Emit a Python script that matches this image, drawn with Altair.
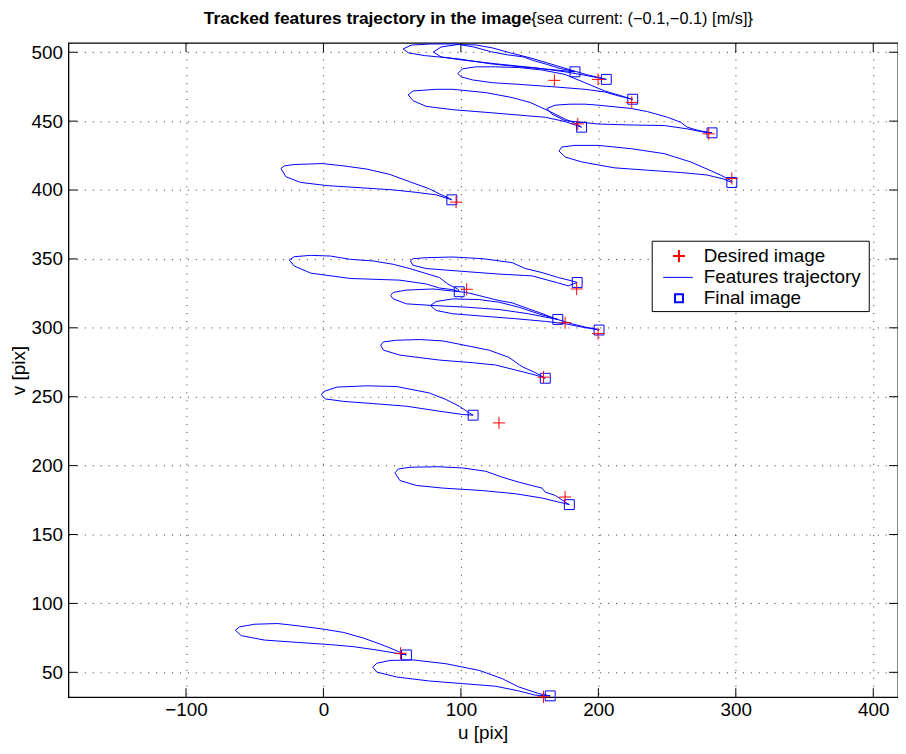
import altair as alt
import pandas as pd

# ---- trajectories of the 16 tracked features (u, v in pixels) ----
T01_U = [58.0, 64.0, 78.4, 96.5, 109.4, 121.7, 134.0, 145.5, 152.7, 162.8, 172.2, 181.5, 183.0, 165.0, 145.5, 121.7, 97.9, 73.4, 61.9, 58.0]
T01_V = [502.4, 505.2, 506.0, 506.0, 503.8, 500.4, 498.1, 496.6, 494.0, 491.1, 488.2, 486.3, 485.8, 487.5, 489.2, 491.6, 495.2, 497.6, 499.5, 502.4]

T02_U = [79.9, 85.6, 97.9, 110.9, 123.1, 136.1, 150.5, 165.0, 179.4, 191.6, 201.0, 205.3, 205.8, 190.2, 175.8, 154.1, 125.3, 100.1, 85.6, 79.9]
T02_V = [500.2, 503.8, 505.6, 505.3, 503.1, 499.5, 495.9, 491.6, 487.3, 483.7, 481.5, 480.4, 480.3, 483.3, 485.8, 488.7, 491.6, 494.5, 496.6, 500.2]

T03_U = [97.7, 101.3, 110.9, 125.3, 142.1, 159.0, 175.8, 190.2, 204.6, 216.7, 223.9, 225.0, 214.2, 204.6, 190.2, 166.2, 142.1, 122.9, 108.5, 100.1, 97.7]
T03_V = [484.6, 488.0, 489.4, 489.4, 488.9, 487.1, 483.9, 477.9, 471.9, 468.4, 465.9, 465.9, 468.4, 471.2, 473.1, 475.0, 476.7, 477.9, 479.9, 482.2, 484.6]

T04_U = [61.6, 65.2, 82.0, 94.1, 118.1, 137.3, 150.5, 163.5, 175.8, 184.2, 187.8, 184.2, 175.8, 161.4, 142.1, 118.1, 94.1, 74.8, 65.2, 61.6]
T04_V = [469.1, 471.9, 473.1, 473.1, 470.7, 467.1, 463.5, 457.6, 451.5, 447.9, 445.6, 446.8, 449.7, 452.8, 454.4, 456.4, 458.3, 460.7, 464.8, 469.1]

T05_U = [162.6, 168.6, 179.4, 190.2, 199.8, 223.9, 235.8, 250.3, 259.9, 264.7, 273.1, 282.7, 276.7, 264.7, 247.9, 223.9, 199.8, 175.8, 166.2, 162.6]
T05_V = [459.2, 461.6, 462.3, 462.3, 461.6, 459.2, 456.9, 452.8, 449.2, 445.6, 443.1, 441.5, 442.0, 444.4, 446.8, 447.2, 447.9, 450.4, 455.1, 459.2]

T06_U = [171.4, 173.4, 183.0, 199.8, 223.9, 247.9, 267.1, 279.1, 288.8, 297.1, 297.1, 291.1, 279.1, 259.9, 235.8, 211.8, 187.8, 175.8, 171.4]
T06_V = [428.3, 431.2, 432.4, 432.4, 430.0, 426.4, 420.4, 415.2, 410.9, 406.5, 405.5, 408.0, 410.9, 412.7, 414.4, 416.1, 420.4, 424.0, 428.3]

T07_U = [-30.9, -28.5, -21.3, -0.9, 14.8, 31.6, 48.4, 62.8, 77.2, 84.4, 91.6, 93.4, 82.0, 67.6, 50.8, 26.7, 2.7, -16.5, -27.3, -30.9]
T07_V = [415.6, 417.5, 418.5, 419.2, 417.5, 415.2, 411.3, 406.0, 400.8, 397.2, 394.0, 392.9, 396.5, 398.3, 400.1, 401.7, 403.2, 405.5, 409.6, 415.6]

T08_U = [63.3, 65.2, 74.8, 94.1, 115.7, 137.3, 146.9, 159.0, 170.9, 180.6, 184.6, 178.0, 170.9, 151.8, 127.7, 103.7, 74.8, 65.2, 63.3]
T08_V = [348.5, 350.2, 350.9, 351.4, 350.2, 347.3, 343.0, 340.1, 336.5, 334.1, 332.9, 330.5, 332.5, 337.7, 339.0, 340.8, 343.0, 345.4, 348.5]

T09_U = [-24.9, -21.3, -9.3, 5.1, 19.5, 36.4, 50.8, 62.8, 72.4, 84.4, 90.5, 97.7, 98.8, 94.1, 84.4, 74.8, 55.6, 19.5, -9.3, -21.3, -24.9]
T09_V = [349.2, 351.6, 352.6, 352.1, 349.7, 348.5, 346.1, 343.0, 340.1, 336.5, 331.8, 328.2, 326.2, 327.7, 328.9, 331.8, 334.6, 335.8, 339.7, 344.9, 349.2]

T10_U = [48.9, 50.8, 60.4, 79.7, 103.7, 113.3, 127.7, 137.3, 149.3, 161.4, 168.6, 170.5, 161.4, 149.3, 127.7, 103.7, 79.7, 60.4, 50.8, 48.9]
T10_V = [323.4, 325.7, 327.4, 328.2, 325.7, 323.4, 319.8, 318.1, 313.8, 309.5, 306.6, 306.1, 307.8, 310.2, 313.3, 315.0, 316.2, 317.4, 321.0, 323.4]

T11_U = [77.9, 82.0, 94.1, 113.3, 127.7, 142.1, 156.5, 168.6, 180.6, 190.2, 199.8, 200.5, 187.8, 175.8, 161.4, 139.7, 115.7, 94.1, 82.0, 77.9]
T11_V = [316.2, 319.1, 321.0, 320.5, 318.6, 315.0, 310.2, 306.6, 303.0, 300.6, 298.9, 298.4, 300.6, 303.0, 304.7, 306.6, 308.5, 310.2, 312.6, 316.2]

T12_U = [41.7, 43.6, 53.2, 70.0, 86.9, 106.0, 120.5, 134.9, 144.5, 154.1, 159.4, 161.4, 156.5, 144.5, 125.3, 108.5, 84.4, 55.6, 43.6, 41.7]
T12_V = [287.4, 289.8, 291.0, 291.5, 290.5, 286.7, 283.8, 278.6, 271.8, 267.5, 264.6, 263.4, 265.1, 268.2, 273.0, 274.7, 276.6, 280.2, 283.8, 287.4]

T13_U = [-1.6, 0.3, 9.9, 31.6, 53.2, 77.2, 89.3, 98.8, 106.0, 108.9, 101.3, 84.4, 60.4, 36.4, 14.8, 1.5, -1.6]
T13_V = [251.4, 253.8, 257.0, 257.9, 257.4, 252.7, 247.9, 243.1, 238.3, 236.6, 237.1, 239.5, 243.1, 245.0, 246.6, 248.4, 251.4]

T14_U = [52.0, 54.4, 62.8, 83.3, 101.3, 118.1, 130.1, 142.1, 159.0, 161.4, 168.6, 175.8, 178.9, 170.9, 159.0, 139.7, 115.7, 86.9, 67.6, 55.6, 52.0]
T14_V = [194.7, 197.5, 198.8, 199.2, 198.3, 195.9, 191.6, 188.0, 183.7, 180.8, 178.4, 173.6, 171.7, 173.6, 176.5, 179.6, 181.9, 183.7, 185.6, 189.2, 194.7]

T15_U = [-64.1, -60.9, -50.1, -33.3, -18.9, 0.3, 14.8, 29.2, 41.2, 48.4, 55.6, 60.4, 48.4, 38.8, 22.0, 5.1, -18.9, -42.9, -59.8, -64.1]
T15_V = [80.6, 83.0, 84.9, 85.4, 83.8, 81.3, 78.9, 74.8, 70.5, 67.7, 64.6, 62.6, 64.6, 66.2, 68.6, 70.1, 71.7, 73.4, 76.6, 80.6]

T16_U = [35.9, 38.8, 48.4, 65.2, 89.3, 113.3, 130.1, 142.1, 156.5, 165.0, 154.1, 142.1, 125.3, 101.3, 77.2, 53.2, 38.8, 35.9]
T16_V = [53.7, 56.6, 58.6, 59.0, 56.2, 51.4, 45.4, 39.4, 34.6, 32.9, 33.4, 36.5, 39.9, 41.8, 43.7, 46.6, 50.2, 53.7]

# ---- desired image points (red +) and final image points (blue squares) ----
DESIRED_U = [168.0, 199.8, 224.3, 185.0, 280.3, 297.1, 96.5, 184.2, 104.2, 175.8, 199.8, 160.1, 127.7, 175.8, 56.1, 160.1]
DESIRED_V = [479.6, 480.3, 463.6, 448.0, 440.8, 408.4, 391.2, 328.2, 328.0, 303.7, 295.8, 264.2, 231.0, 177.2, 63.8, 32.2]
FINAL_U = [183.0, 205.8, 225.0, 187.8, 282.7, 297.1, 93.4, 184.6, 98.8, 170.5, 200.5, 161.4, 108.9, 178.9, 60.4, 165.0]
FINAL_V = [485.8, 480.3, 465.9, 445.6, 441.5, 405.5, 392.9, 332.9, 326.2, 306.1, 298.4, 263.4, 236.6, 171.7, 62.6, 32.9]

# ---- axes ----
X_TICKS = [-100, 0, 100, 200, 300, 400]
Y_TICKS = [50, 100, 150, 200, 250, 300, 350, 400, 450, 500]
X_DOMAIN = [-185.5, 418.0]
Y_DOMAIN = [32.0, 506.7]

TITLE_BOLD = "Tracked features trajectory in the image"
TITLE_NORMAL = "{sea current: (\u22120.1,\u22120.1) [m/s]}"
X_TITLE = "u [pix]"
Y_TITLE = "v [pix]"
LEGEND_LABELS = ["Desired image", "Features trajectory", "Final image"]

W, H = 837, 660
FONT = "Liberation Sans"
FS = 19
BLUE = "#0000ff"
RED = "#ff0000"
PLUS = "M-1,0L1,0M0,-1L0,1"

trajs = [(T01_U, T01_V), (T02_U, T02_V), (T03_U, T03_V), (T04_U, T04_V), (T05_U, T05_V),
         (T06_U, T06_V), (T07_U, T07_V), (T08_U, T08_V), (T09_U, T09_V), (T10_U, T10_V),
         (T11_U, T11_V), (T12_U, T12_V), (T13_U, T13_V), (T14_U, T14_V), (T15_U, T15_V),
         (T16_U, T16_V)]
rows = []
for k, (us, vs) in enumerate(trajs):
    for i, (u, v) in enumerate(zip(us, vs)):
        rows.append({"traj": k, "i": i, "u": u, "v": v})
df_lines = pd.DataFrame(rows)
df_des = pd.DataFrame({"u": DESIRED_U, "v": DESIRED_V})
df_fin = pd.DataFrame({"u": FINAL_U, "v": FINAL_V})
df_xt = pd.DataFrame({"u": X_TICKS})
df_yt = pd.DataFrame({"v": Y_TICKS})
one = pd.DataFrame({"k": [0]})

X = alt.X("u:Q", scale=alt.Scale(domain=X_DOMAIN, nice=False, zero=False),
          axis=alt.Axis(values=X_TICKS, title=None, grid=True, ticks=False, domain=False,
                        labelPadding=4))
Y = alt.Y("v:Q", scale=alt.Scale(domain=Y_DOMAIN, nice=False, zero=False),
          axis=alt.Axis(values=Y_TICKS, title=Y_TITLE, grid=True, ticks=False, domain=False,
                        labelPadding=6, titlePadding=3))

lines = alt.Chart(df_lines).mark_line(color=BLUE, strokeWidth=1).encode(
    x=X, y=Y, detail="traj:N", order="i:Q")
finals = alt.Chart(df_fin).mark_point(shape="square", size=100, filled=False, color=BLUE,
                                      strokeWidth=1, opacity=1).encode(x=X, y=Y)
desired = alt.Chart(df_des).mark_point(shape=PLUS, size=150, filled=False, color=RED,
                                       strokeWidth=1, opacity=1).encode(x=X, y=Y)

tick_b = alt.Chart(df_xt).mark_rule(color="#000", strokeWidth=1).encode(
    x=X, y=alt.value(H), y2=alt.value(H - 9))
tick_t = alt.Chart(df_xt).mark_rule(color="#000", strokeWidth=1).encode(
    x=X, y=alt.value(0), y2=alt.value(9))
tick_l = alt.Chart(df_yt).mark_rule(color="#000", strokeWidth=1).encode(
    y=Y, x=alt.value(0), x2=alt.value(9))
tick_r = alt.Chart(df_yt).mark_rule(color="#000", strokeWidth=1).encode(
    y=Y, x=alt.value(W), x2=alt.value(W - 9))

# legend (drawn inside the plot area)
LX0, LX1, LY0, LY1 = 589, 808, 200, 271
leg_box = alt.Chart(one).mark_rect(fill="white", stroke="#000", strokeWidth=1).encode(
    x=alt.value(LX0), x2=alt.value(LX1), y=alt.value(LY0), y2=alt.value(LY1))
leg_plus = alt.Chart(one).mark_point(shape=PLUS, size=150, filled=False, color=RED, opacity=1).encode(
    x=alt.value(616), y=alt.value(215))
leg_line = alt.Chart(one).mark_rule(color=BLUE, strokeWidth=1).encode(
    x=alt.value(600), x2=alt.value(630), y=alt.value(236.5))
leg_sq = alt.Chart(one).mark_point(shape="square", size=64, filled=False, color=BLUE, opacity=1).encode(
    x=alt.value(616), y=alt.value(257.5))
leg_texts = [
    alt.Chart(one).mark_text(align="left", baseline="middle", font=FONT, fontSize=FS, color="#000").encode(
        x=alt.value(641), y=alt.value(yy), text=alt.value(t))
    for t, yy in zip(LEGEND_LABELS, [215, 236.5, 257.5])
]

x_title = alt.Chart(one).mark_text(align="center", baseline="alphabetic", font=FONT, fontSize=FS,
                                   color="#000").encode(
    x=alt.value(418.5), y=alt.value(702), text=alt.value(X_TITLE))

SPLIT = 467
title_b = alt.Chart(one).mark_text(align="right", baseline="alphabetic", font=FONT, fontSize=17.5,
                                   fontWeight="bold", color="#000").encode(
    x=alt.value(SPLIT), y=alt.value(-19), text=alt.value(TITLE_BOLD))
title_n = alt.Chart(one).mark_text(align="left", baseline="alphabetic", font=FONT, fontSize=16.5,
                                   color="#000").encode(
    x=alt.value(SPLIT), y=alt.value(-19), text=alt.value(TITLE_NORMAL))

chart = alt.layer(
    lines, finals, desired, tick_b, tick_t, tick_l, tick_r,
    leg_box, leg_plus, leg_line, leg_sq, *leg_texts, x_title, title_b, title_n
).properties(
    width=W, height=H,
    autosize=alt.AutoSizeParams(type="none"),
    padding={"left": 61, "top": 32, "right": 0, "bottom": 46},
).configure_view(stroke="#000", strokeWidth=1.3).configure_axis(
    labelFont=FONT, titleFont=FONT, labelFontSize=FS, titleFontSize=FS,
    labelColor="#000", titleColor="#000", titleFontWeight="normal",
    gridColor="#000", gridDash=[1, 7], gridWidth=1, gridOpacity=0.8,
)

chart.save("out.html", embed_options={"renderer": "svg", "actions": False})
